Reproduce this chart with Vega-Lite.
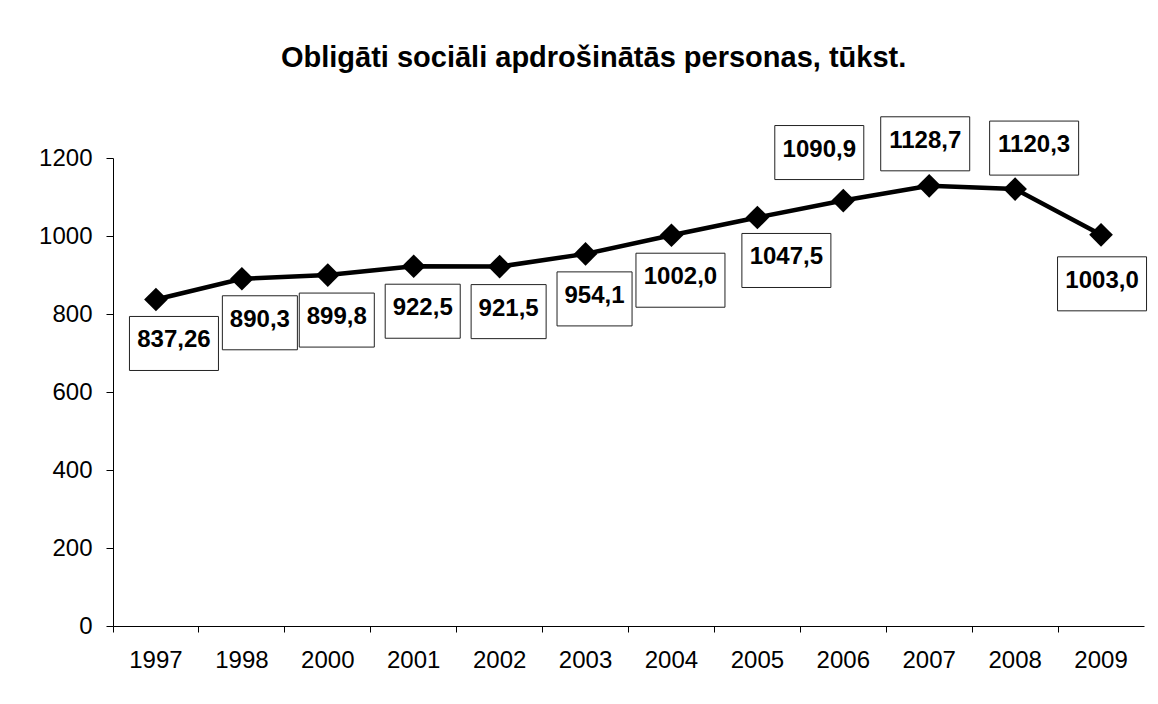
{
  "$schema": "https://vega.github.io/schema/vega-lite/v6.json",
  "autosize": "none",
  "width": 1031,
  "height": 468,
  "padding": {"left": 113, "top": 158, "right": 14, "bottom": 78},
  "background": "white",
  "config": {
    "view": {"stroke": null},
    "font": "Liberation Sans"
  },
  "title": {
    "text": "Obligāti sociāli apdrošinātās personas, tūkst.",
    "font": "Liberation Sans",
    "fontSize": 29,
    "fontWeight": "bold",
    "color": "black",
    "frame": "bounds",
    "anchor": "middle",
    "offset": 42
  },
  "data": {
    "values": [
      {"year": "1997", "value": 837.26, "label": "837,26"},
      {"year": "1998", "value": 890.3, "label": "890,3"},
      {"year": "2000", "value": 899.8, "label": "899,8"},
      {"year": "2001", "value": 922.5, "label": "922,5"},
      {"year": "2002", "value": 921.5, "label": "921,5"},
      {"year": "2003", "value": 954.1, "label": "954,1"},
      {"year": "2004", "value": 1002.0, "label": "1002,0"},
      {"year": "2005", "value": 1047.5, "label": "1047,5"},
      {"year": "2006", "value": 1090.9, "label": "1090,9"},
      {"year": "2007", "value": 1128.7, "label": "1128,7"},
      {"year": "2008", "value": 1120.3, "label": "1120,3"},
      {"year": "2009", "value": 1003.0, "label": "1003,0"}
    ]
  },
  "encoding": {
    "x": {
      "field": "year",
      "type": "nominal",
      "sort": null,
      "scale": {"type": "band", "paddingInner": 0, "paddingOuter": 0},
      "axis": {
        "title": null,
        "labelAngle": 0,
        "bandPosition": 0,
        "labelFont": "Liberation Sans",
        "labelFontSize": 24,
        "labelColor": "black",
        "labelPadding": 16,
        "tickSize": 6,
        "tickColor": "black",
        "domainColor": "black",
        "grid": false
      }
    },
    "y": {
      "field": "value",
      "type": "quantitative",
      "scale": {"domain": [0, 1200], "nice": false},
      "axis": {
        "title": null,
        "values": [0, 200, 400, 600, 800, 1000, 1200],
        "format": "d",
        "labelFont": "Liberation Sans",
        "labelFontSize": 24,
        "labelColor": "black",
        "labelPadding": 14,
        "tickSize": 7,
        "tickColor": "black",
        "domainColor": "black",
        "grid": false
      }
    }
  },
  "layer": [
    {"mark": {"type": "line", "color": "black", "strokeWidth": 4.5}},
    {"mark": {"type": "point", "shape": "diamond", "filled": true, "color": "black", "opacity": 1, "size": 560}},
    {
      "transform": [{"filter": {"field": "year", "oneOf": ["2000", "2001", "2002", "2003", "2004"]}}],
      "layer": [
        {"mark": {"type": "point", "fill": "white", "stroke": "#222222", "strokeWidth": 1, "opacity": 1, "fillOpacity": 1, "size": 7921, "xOffset": 9, "yOffset": 45},
         "encoding": {"shape": {"condition": {"test": "length(datum.label) > 5", "value": "M-1,-0.607L1,-0.607L1,0.607L-1,0.607Z"}, "value": "M-0.843,-0.607L0.843,-0.607L0.843,0.607L-0.843,0.607Z"}}},
        {"mark": {"type": "text", "font": "Liberation Sans", "fontSize": 24, "fontWeight": "bold", "color": "black", "align": "center", "baseline": "middle", "dx": 9, "dy": 42},
         "encoding": {"text": {"field": "label"}}}
      ]
    },
    {
      "transform": [{"filter": {"field": "year", "oneOf": ["1997", "1998"]}}],
      "layer": [
        {"mark": {"type": "point", "fill": "white", "stroke": "#222222", "strokeWidth": 1, "opacity": 1, "fillOpacity": 1, "size": 7921, "xOffset": 18, "yOffset": 44},
         "encoding": {"shape": {"condition": {"test": "length(datum.label) > 5", "value": "M-1,-0.607L1,-0.607L1,0.607L-1,0.607Z"}, "value": "M-0.843,-0.607L0.843,-0.607L0.843,0.607L-0.843,0.607Z"}}},
        {"mark": {"type": "text", "font": "Liberation Sans", "fontSize": 24, "fontWeight": "bold", "color": "black", "align": "center", "baseline": "middle", "dx": 18, "dy": 41},
         "encoding": {"text": {"field": "label"}}}
      ]
    },
    {
      "transform": [{"filter": {"field": "year", "oneOf": ["2005"]}}],
      "layer": [
        {"mark": {"type": "point", "fill": "white", "stroke": "#222222", "strokeWidth": 1, "opacity": 1, "fillOpacity": 1, "size": 7921, "xOffset": 29, "yOffset": 43},
         "encoding": {"shape": {"condition": {"test": "length(datum.label) > 5", "value": "M-1,-0.607L1,-0.607L1,0.607L-1,0.607Z"}, "value": "M-0.843,-0.607L0.843,-0.607L0.843,0.607L-0.843,0.607Z"}}},
        {"mark": {"type": "text", "font": "Liberation Sans", "fontSize": 24, "fontWeight": "bold", "color": "black", "align": "center", "baseline": "middle", "dx": 29, "dy": 40},
         "encoding": {"text": {"field": "label"}}}
      ]
    },
    {
      "transform": [{"filter": {"field": "year", "oneOf": ["2009"]}}],
      "layer": [
        {"mark": {"type": "point", "fill": "white", "stroke": "#222222", "strokeWidth": 1, "opacity": 1, "fillOpacity": 1, "size": 7921, "xOffset": 1, "yOffset": 49},
         "encoding": {"shape": {"condition": {"test": "length(datum.label) > 5", "value": "M-1,-0.607L1,-0.607L1,0.607L-1,0.607Z"}, "value": "M-0.843,-0.607L0.843,-0.607L0.843,0.607L-0.843,0.607Z"}}},
        {"mark": {"type": "text", "font": "Liberation Sans", "fontSize": 24, "fontWeight": "bold", "color": "black", "align": "center", "baseline": "middle", "dx": 1, "dy": 46},
         "encoding": {"text": {"field": "label"}}}
      ]
    },
    {
      "transform": [{"filter": {"field": "year", "oneOf": ["2006"]}}],
      "layer": [
        {"mark": {"type": "point", "fill": "white", "stroke": "#222222", "strokeWidth": 1, "opacity": 1, "fillOpacity": 1, "size": 7921, "xOffset": -24, "yOffset": -48},
         "encoding": {"shape": {"condition": {"test": "length(datum.label) > 5", "value": "M-1,-0.607L1,-0.607L1,0.607L-1,0.607Z"}, "value": "M-0.843,-0.607L0.843,-0.607L0.843,0.607L-0.843,0.607Z"}}},
        {"mark": {"type": "text", "font": "Liberation Sans", "fontSize": 24, "fontWeight": "bold", "color": "black", "align": "center", "baseline": "middle", "dx": -24, "dy": -51},
         "encoding": {"text": {"field": "label"}}}
      ]
    },
    {
      "transform": [{"filter": {"field": "year", "oneOf": ["2007"]}}],
      "layer": [
        {"mark": {"type": "point", "fill": "white", "stroke": "#222222", "strokeWidth": 1, "opacity": 1, "fillOpacity": 1, "size": 7921, "xOffset": -4, "yOffset": -42},
         "encoding": {"shape": {"condition": {"test": "length(datum.label) > 5", "value": "M-1,-0.607L1,-0.607L1,0.607L-1,0.607Z"}, "value": "M-0.843,-0.607L0.843,-0.607L0.843,0.607L-0.843,0.607Z"}}},
        {"mark": {"type": "text", "font": "Liberation Sans", "fontSize": 24, "fontWeight": "bold", "color": "black", "align": "center", "baseline": "middle", "dx": -4, "dy": -45},
         "encoding": {"text": {"field": "label"}}}
      ]
    },
    {
      "transform": [{"filter": {"field": "year", "oneOf": ["2008"]}}],
      "layer": [
        {"mark": {"type": "point", "fill": "white", "stroke": "#222222", "strokeWidth": 1, "opacity": 1, "fillOpacity": 1, "size": 7921, "xOffset": 19, "yOffset": -41},
         "encoding": {"shape": {"condition": {"test": "length(datum.label) > 5", "value": "M-1,-0.607L1,-0.607L1,0.607L-1,0.607Z"}, "value": "M-0.843,-0.607L0.843,-0.607L0.843,0.607L-0.843,0.607Z"}}},
        {"mark": {"type": "text", "font": "Liberation Sans", "fontSize": 24, "fontWeight": "bold", "color": "black", "align": "center", "baseline": "middle", "dx": 19, "dy": -44},
         "encoding": {"text": {"field": "label"}}}
      ]
    }
  ]
}
